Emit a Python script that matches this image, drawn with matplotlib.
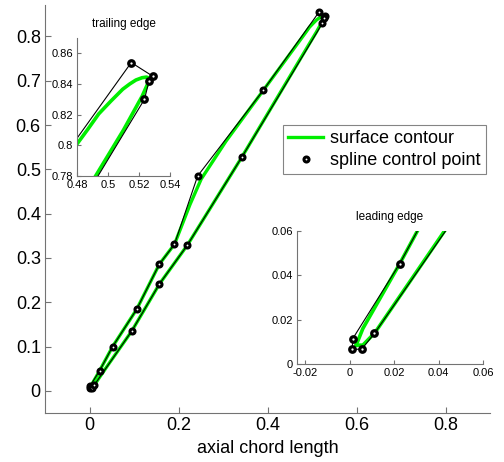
import matplotlib.pyplot as plt
from matplotlib.ticker import FuncFormatter

plt.rcParams['font.family'] = ['Liberation Sans', 'DejaVu Sans']

# puntos de control (polígono cerrado: extradós -> borde de ataque -> intradós)
ctrl_x = [0.529, 0.515, 0.391, 0.243, 0.191, 0.157, 0.106, 0.052, 0.0226,
          0.0015, 0.0012, 0.0055, 0.0112, 0.095, 0.157, 0.220, 0.342,
          0.5235, 0.5265]
ctrl_y = [0.845, 0.854, 0.679, 0.485, 0.331, 0.286, 0.184, 0.100, 0.0453,
          0.0115, 0.0066, 0.0067, 0.0138, 0.135, 0.241, 0.329, 0.527,
          0.830, 0.842]

# contorno de la superficie
upper_x = [0.003, 0.006, 0.0226, 0.052, 0.106, 0.157, 0.191, 0.226, 0.251,
           0.307, 0.391, 0.479, 0.487, 0.494, 0.502, 0.5095, 0.514, 0.518,
           0.522, 0.5248, 0.527]
upper_y = [0.0085, 0.016, 0.0453, 0.100, 0.184, 0.286, 0.331, 0.421, 0.478,
           0.564, 0.679, 0.7995, 0.8105, 0.8205, 0.829, 0.8366, 0.8400,
           0.8426, 0.8441, 0.8445, 0.8437]
lower_x = [0.003, 0.006, 0.0114, 0.0427, 0.095, 0.157, 0.220, 0.342, 0.492,
           0.510, 0.522, 0.526, 0.527]
lower_y = [0.0085, 0.0085, 0.0141, 0.060, 0.135, 0.241, 0.329, 0.527, 0.780,
           0.810, 0.832, 0.841, 0.8437]

main_xticks = [0, 0.2, 0.4, 0.6, 0.8]
main_yticks = [0, 0.1, 0.2, 0.3, 0.4, 0.5, 0.6, 0.7, 0.8]
te_xticks = [0.48, 0.5, 0.52, 0.54]
te_yticks = [0.78, 0.8, 0.82, 0.84, 0.86]
le_xticks = [-0.02, 0, 0.02, 0.04, 0.06]
le_yticks = [0, 0.02, 0.04, 0.06]

GREEN = '#00ee00'
SPINE = '0.45'
fmt = FuncFormatter(lambda v, p: '%g' % round(v, 4))


def pinta_perfil(ax, lw_g, lw_k, ms, mew):
    h1, = ax.plot(upper_x, upper_y, color=GREEN, lw=lw_g, solid_joinstyle='round')
    ax.plot(lower_x, lower_y, color=GREEN, lw=lw_g, solid_joinstyle='round')
    ax.plot(ctrl_x, ctrl_y, color='black', lw=lw_k)
    h2, = ax.plot(ctrl_x, ctrl_y, ls='none', marker='o', ms=ms, mfc='white',
                  mec='black', mew=mew)
    return h1, h2


def estilo(ax, size, ticklen):
    for s in ['top', 'right']:
        ax.spines[s].set_visible(False)
    for s in ['left', 'bottom']:
        ax.spines[s].set_color(SPINE)
        ax.spines[s].set_linewidth(0.8)
    ax.tick_params(direction='in', length=ticklen, width=0.8, color=SPINE,
                   labelsize=size, pad=3)
    ax.xaxis.set_major_formatter(fmt)
    ax.yaxis.set_major_formatter(fmt)


fig = plt.figure(figsize=(5.04, 4.62), dpi=100)
W, H = 504, 462

ax = fig.add_axes([45 / W, 1 - 413 / H, 445 / W, 407.6 / H])
h1, h2 = pinta_perfil(ax, 2.4, 0.8, 3.6, 2.2)
ax.set_xlim(-0.1, 0.9)
ax.set_ylim(-0.05, 0.87)
ax.set_xticks(main_xticks)
ax.set_yticks(main_yticks)
estilo(ax, 13, 4)
ax.set_xlabel('axial chord length', fontsize=13, labelpad=4)

leg = fig.legend([h1, h2], ['surface contour', 'spline control point'],
                 loc='upper left', bbox_to_anchor=(283 / W, 1 - 125 / H),
                 bbox_transform=fig.transFigure, fontsize=13, fancybox=False,
                 handlelength=1.9, borderpad=0.3, labelspacing=0.25,
                 handletextpad=0.4, borderaxespad=0)
leg.get_frame().set_edgecolor('0.4')
leg.get_frame().set_linewidth(0.8)

# borde de salida
ax_te = fig.add_axes([77 / W, 1 - 176 / H, 93 / W, 138 / H])
pinta_perfil(ax_te, 2.6, 0.8, 4.0, 2.3)
ax_te.set_xlim(0.48, 0.54)
ax_te.set_ylim(0.78, 0.87)
ax_te.set_xticks(te_xticks)
ax_te.set_yticks(te_yticks)
estilo(ax_te, 8, 3)
ax_te.set_title('trailing edge', fontsize=8.5, pad=8)

# borde de ataque
ax_le = fig.add_axes([297 / W, 1 - 364 / H, 186 / W, 133 / H])
pinta_perfil(ax_le, 2.6, 0.8, 4.0, 2.3)
ax_le.set_xlim(-0.0236, 0.06)
ax_le.set_ylim(0, 0.06)
ax_le.set_xticks(le_xticks)
ax_le.set_yticks(le_yticks)
estilo(ax_le, 8, 3)
ax_le.set_title('leading edge', fontsize=8.5, pad=8)

fig.savefig('out.png', dpi=100)
